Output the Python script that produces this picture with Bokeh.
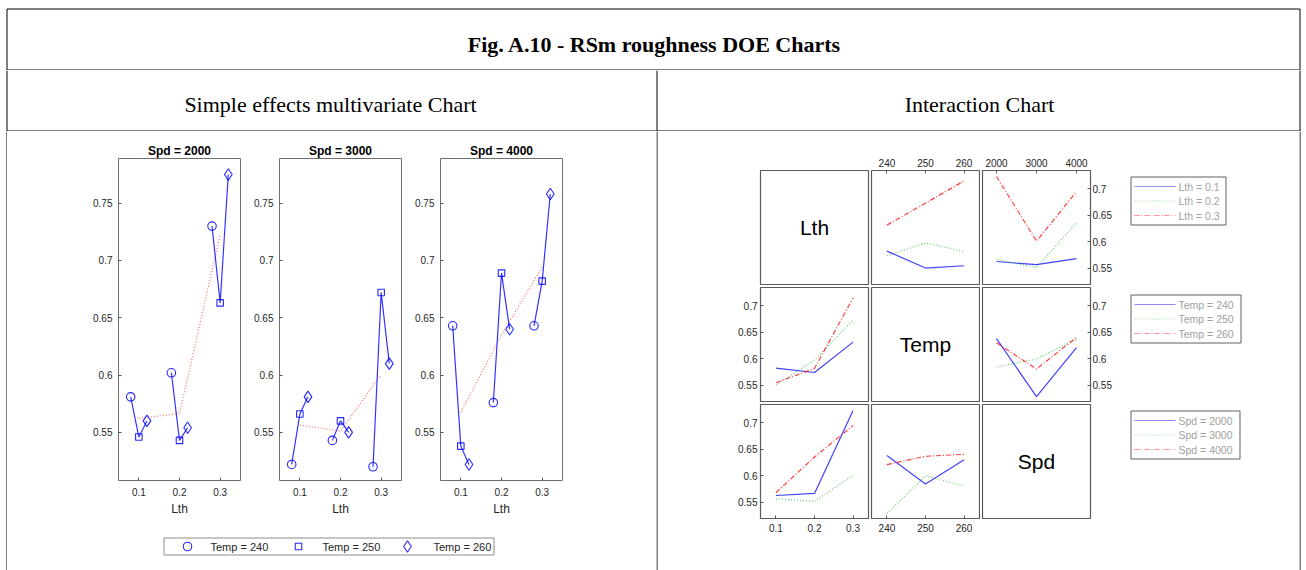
import numpy as np
from bokeh.plotting import figure
from bokeh.layouts import row, column
from bokeh.models import Range1d, LinearAxis, FixedTicker, CustomJSTickFormatter
from bokeh.core.properties import value
from bokeh.embed import file_html
from bokeh.resources import INLINE

# ---------------- texts ----------------
fig_title = "Fig. A.10 - RSm roughness DOE Charts"
left_heading = "Simple effects multivariate Chart"
right_heading = "Interaction Chart"

# ---------------- data ----------------
spd_levels = [2000, 3000, 4000]
lth_levels = [0.1, 0.2, 0.3]
temp_levels = [240, 250, 260]

# RSm values: rows = Lth 0.1 / 0.2 / 0.3, columns = Temp 240 / 250 / 260
rsm_spd2000 = [[0.581, 0.546, 0.560], [0.602, 0.543, 0.554], [0.730, 0.663, 0.775]]
rsm_spd3000 = [[0.522, 0.566, 0.581], [0.543, 0.560, 0.550], [0.520, 0.672, 0.610]]
rsm_spd4000 = [[0.643, 0.538, 0.522], [0.576, 0.689, 0.640], [0.643, 0.682, 0.758]]

lth_ticks = [0.1, 0.2, 0.3]
lth_tick_labels = ["0.1", "0.2", "0.3"]
temp_ticks = [240, 250, 260]
temp_tick_labels = ["240", "250", "260"]
spd_ticks = [2000, 3000, 4000]
spd_tick_labels = ["2000", "3000", "4000"]
simple_y_ticks = [0.55, 0.6, 0.65, 0.7, 0.75]
simple_y_tick_labels = ["0.55", "0.6", "0.65", "0.7", "0.75"]
inter_y_ticks = [0.55, 0.6, 0.65, 0.7]
inter_y_tick_labels = ["0.55", "0.6", "0.65", "0.7"]

rsm = np.array([rsm_spd2000, rsm_spd3000, rsm_spd4000])  # axes: spd, lth, temp

# ---------------- styles ----------------
FONT = "Liberation Sans"
SERIF = "Liberation Serif"
AXTXT = "#262626"
BLUE = "#0000ff"
GREEN = "#00a000"
RED = "#ff0000"
LEVEL_STYLES = [
    dict(line_color=BLUE, line_dash="solid", line_alpha=0.75, line_width=1.2),
    dict(line_color=GREEN, line_dash="1 2", line_alpha=0.6, line_width=1.2),
    dict(line_color=RED, line_dash="5 2 1 2", line_alpha=0.75, line_width=1.2),
]


def canvas(w, h, top=0, bottom=0):
    # pixel-coordinate drawing area (y grows downward); borders keep row alignment
    p = figure(width=w, height=h, x_range=Range1d(0, w), y_range=Range1d(h - bottom, top),
               output_backend="svg", toolbar_location=None, min_border=0,
               min_border_top=top, min_border_bottom=bottom,
               x_axis_location=None, y_axis_location=None)
    p.outline_line_color = None
    p.grid.visible = False
    p.background_fill_color = "white"
    p.border_fill_color = "white"
    return p


def fmt(ticks, labels):
    return CustomJSTickFormatter(
        args=dict(t=list(ticks), l=list(labels)),
        code="for (let i = 0; i < t.length; i++) { if (Math.abs(t[i] - tick) < 1e-9) return l[i]; } return '';")


def make_axis(ticks, labels, size="10px", standoff=4, tick_in=3):
    ax = LinearAxis(ticker=FixedTicker(ticks=list(ticks)), formatter=fmt(ticks, labels))
    ax.major_tick_in = tick_in
    ax.major_tick_out = 0
    ax.minor_tick_line_color = None
    ax.axis_line_color = None
    ax.major_tick_line_color = "#555555"
    ax.major_label_text_font = FONT
    ax.major_label_text_font_size = size
    ax.major_label_text_color = AXTXT
    ax.major_label_standoff = standoff
    return ax


# ---------------- header rows ----------------
hdr = canvas(1306, 70)
hdr.multi_line(xs=[[6.5, 1299.5], [6.5, 6.5], [1299.5, 1299.5], [6.5, 1299.5]],
               ys=[[8.5, 8.5], [8.5, 70], [8.5, 70], [69.5, 69.5]],
               line_color="black", line_width=1)
hdr.text(x=[654], y=[44], text=[fig_title], text_font=value(SERIF), text_font_style="bold",
         text_font_size="22px", text_align="center", text_baseline="middle", text_color="black")

sub = canvas(1306, 61)
sub.multi_line(xs=[[6.5, 6.5], [656.5, 656.5], [1299.5, 1299.5], [6.5, 1299.5]],
               ys=[[0, 61], [0, 61], [0, 61], [60.5, 60.5]],
               line_color="black", line_width=1)
sub.text(x=[330, 979], y=[34, 34], text=[left_heading, right_heading], text_font=value(SERIF),
         text_font_size="22px", text_align="center", text_baseline="middle", text_color="black")


def vstrip(w, x, h=439):
    p = canvas(w, h)
    p.line([x, x], [0, h], line_color="black", line_width=1)
    return p


# ---------------- simple effects panels ----------------
temp_offsets = [-0.02, 0.0, 0.02]
temp_markers = [("circle", 8.5), ("square", 6.5), ("diamond", 11.5)]


def simple_panel(k, width, left, right):
    p = figure(width=width, height=395, x_range=Range1d(0.05, 0.35), y_range=Range1d(0.508, 0.789),
               output_backend="svg", toolbar_location=None,
               x_axis_location=None, y_axis_location=None,
               min_border_left=left, min_border_right=right, min_border_top=27, min_border_bottom=46)
    p.grid.visible = False
    p.outline_line_color = "#6e6e6e"
    p.outline_line_width = 1
    xa = make_axis(lth_ticks, lth_tick_labels, standoff=7)
    xa.axis_label = "Lth"
    xa.axis_label_text_font = FONT
    xa.axis_label_text_font_size = "12px"
    xa.axis_label_text_font_style = "normal"
    xa.axis_label_text_color = AXTXT
    xa.axis_label_standoff = 3
    p.add_layout(xa, "below")
    ya = make_axis(simple_y_ticks, simple_y_tick_labels, standoff=6)
    p.add_layout(ya, "left")
    p.title.text = f"Spd = {spd_levels[k]}"
    p.title.align = "center"
    p.title.text_font = FONT
    p.title.text_font_size = "12px"
    p.title.text_font_style = "bold"
    p.title.text_color = "black"
    p.title.standoff = 2

    means = rsm[k].mean(axis=1)
    p.line(lth_levels, means, line_color=RED, line_dash="1 2", line_alpha=0.6, line_width=1.2)
    for i, lth in enumerate(lth_levels):
        xs = [lth + o for o in temp_offsets]
        ys = list(rsm[k, i, :])
        p.line(xs, ys, line_color=BLUE, line_alpha=0.8, line_width=1.2)
        for j, (mk, sz) in enumerate(temp_markers):
            p.scatter([xs[j]], [ys[j]], marker=mk, size=sz, fill_color=None,
                      line_color=BLUE, line_alpha=0.85, line_width=1.1)
    return p


s1 = simple_panel(0, 238, 111, 5)
s2 = simple_panel(1, 160, 34, 4)
s3 = simple_panel(2, 251, 35, 94)

leg_l = canvas(649, 44)
leg_l.multi_line(xs=[[156.5, 486.5, 486.5, 156.5, 156.5]], ys=[[11.5, 11.5, 28.5, 28.5, 11.5]],
                 line_color="#8c8c8c", line_width=1)
leg_marker_x = [180, 291, 400]
leg_text_x = [203, 315, 426]
for j, (mk, sz) in enumerate(temp_markers):
    leg_l.scatter([leg_marker_x[j]], [20], marker=mk, size=sz, fill_color=None,
                  line_color=BLUE, line_alpha=0.85, line_width=1.1)
leg_l.text(x=leg_text_x, y=[20, 20, 20], text=[f"Temp = {t}" for t in temp_levels],
           text_font=value(FONT), text_font_size="11px", text_color=AXTXT,
           text_align="left", text_baseline="middle")

left_region = column(row(s1, s2, s3), leg_l)

# ---------------- interaction chart ----------------
var_names = ["Lth", "Temp", "Spd"]
var_levels = [lth_levels, temp_levels, spd_levels]
var_axes = [1, 2, 0]  # index in rsm array
var_ranges = [(0.06, 0.34), (236, 264), (1650, 4350)]
var_ticks = [(lth_ticks, lth_tick_labels), (temp_ticks, temp_tick_labels), (spd_ticks, spd_tick_labels)]
inter_y_range = (0.519, 0.734)

col_w = [212, 110, 145]
col_l = [102, 1, 2]
col_r = [2, 1, 35]
row_h = [155, 117, 167]
row_t = [39, 1, 1]
row_b = [2, 2, 52]


def interaction_means(g_ax, x_ax):
    other = 3 - g_ax - x_ax
    m = rsm.mean(axis=other)
    if g_ax > x_ax:
        m = m.T
    return m


def cell(r, c):
    p = figure(width=col_w[c], height=row_h[r],
               x_range=Range1d(*var_ranges[c]), y_range=Range1d(*inter_y_range),
               output_backend="svg", toolbar_location=None,
               x_axis_location=None, y_axis_location=None,
               min_border_left=col_l[c], min_border_right=col_r[c],
               min_border_top=row_t[r], min_border_bottom=row_b[r])
    p.grid.visible = False
    p.outline_line_color = "#5a5a5a"
    p.outline_line_width = 1.2
    if r == c:
        xm = sum(var_ranges[c]) / 2
        ym = sum(inter_y_range) / 2
        p.text(x=[xm], y=[ym], text=[var_names[r]], text_font=value(FONT), text_font_size="21px",
               text_align="center", text_baseline="middle", text_color="black")
        return p
    m = interaction_means(var_axes[r], var_axes[c])
    for g in range(3):
        p.line(var_levels[c], list(m[g]), **LEVEL_STYLES[g])
    ticks, labels = var_ticks[c]
    if r == 0:
        p.add_layout(make_axis(ticks, labels, standoff=4), "above")
    if r == 2:
        p.add_layout(make_axis(ticks, labels, standoff=5), "below")
    if c == 0:
        p.add_layout(make_axis(inter_y_ticks, inter_y_tick_labels, standoff=3), "left")
    if c == 2:
        p.add_layout(make_axis(inter_y_ticks, inter_y_tick_labels, standoff=2), "right")
    return p


legend_boxes = [(45, 95), (8, 110), (7, 109)]  # (top, width) per legend, local pixels


def legend_cell(r):
    p = canvas(174, row_h[r], top=row_t[r], bottom=row_b[r])
    top, w = legend_boxes[r]
    p.multi_line(xs=[[5.5, 5.5 + w, 5.5 + w, 5.5, 5.5]],
                 ys=[[top + .5, top + .5, top + 48.5, top + 48.5, top + .5]],
                 line_color="#606060", line_width=1)
    ys = [top + 10 + 14.5 * i for i in range(3)]
    for g in range(3):
        st = dict(LEVEL_STYLES[g])
        st["line_alpha"] = 0.45
        p.line([9, 50], [ys[g], ys[g]], **st)
    labels = [f"{var_names[r]} = {v}" for v in var_levels[r]]
    p.text(x=[53, 53, 53], y=ys, text=labels, text_font=value(FONT), text_font_size="10.5px",
           text_color="#a0a0a0", text_align="left", text_baseline="middle")
    return p


right_rows = []
for r in range(3):
    right_rows.append(row(cell(r, 0), cell(r, 1), cell(r, 2), legend_cell(r)))
right_region = column(*right_rows)

body = row(vstrip(7, 6.5), left_region, vstrip(2, 0.5), right_region, vstrip(7, 0.5))
layout = column(hdr, sub, body)

open("out.html", "w").write(file_html(layout, INLINE))
